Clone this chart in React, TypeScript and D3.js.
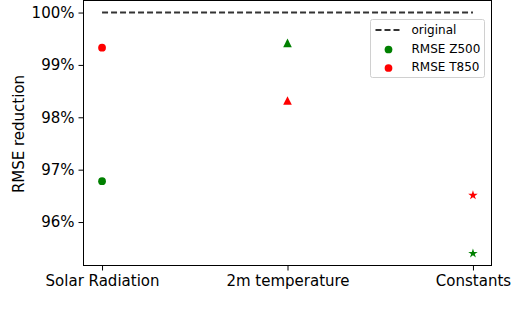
import { useEffect, useRef } from "react";
import * as d3 from "d3";

// categories on the x axis
const categories = ["Solar Radiation", "2m temperature", "Constants"];
// RMSE reduction (%) per category
const z500 = [96.78, 99.42, 95.4];
const t850 = [99.33, 98.32, 96.51];
const original = [100, 100, 100];
const yTicks = [96, 97, 98, 99, 100];
const shapes = ["circle", "triangle", "star"];
const legendItems = ["original", "RMSE Z500", "RMSE T850"];

const W = 520;
const H = 324;
const margin = { left: 83.5, right: 491.5, top: 0.5, bottom: 265.5 };
const font = "DejaVu Sans, sans-serif";

function markerPath(shape: string) {
  if (shape === "circle") return d3.symbol(d3.symbolCircle, 47)();
  if (shape === "star") return d3.symbol(d3.symbolStar, 28)();
  // matplotlib '^' : width == height
  const h = 4.3;
  return `M0,${-h}L${h},${h}L${-h},${h}Z`;
}

export default function App() {
  const svgRef = useRef<SVGSVGElement>(null);

  useEffect(() => {
    const svg = d3.select(svgRef.current);
    svg.selectAll("*").remove();

    const x = d3.scaleLinear().domain([-0.1, 2.1]).range([margin.left, margin.right]);
    const all = [...z500, ...t850, ...original];
    const lo = d3.min(all)!, hi = d3.max(all)!;
    const pad = (hi - lo) * 0.05;
    const y = d3.scaleLinear().domain([lo - pad, hi + pad]).range([margin.bottom, margin.top]);

    // y axis
    const yAxis = svg.append("g").attr("transform", `translate(${margin.left},0)`)
      .call(d3.axisLeft(y).tickValues(yTicks).tickSize(5).tickPadding(4).tickFormat(d => `${d}%`));
    yAxis.select(".domain").remove();
    yAxis.selectAll("text").attr("font-size", 15).attr("font-family", font).attr("fill", "#000");
    yAxis.selectAll("line").attr("stroke", "#000");

    // x axis
    const xAxis = svg.append("g").attr("transform", `translate(0,${margin.bottom})`)
      .call(d3.axisBottom(x).tickValues([0, 1, 2]).tickSize(5).tickPadding(5)
        .tickFormat(d => categories[d as number]));
    xAxis.select(".domain").remove();
    xAxis.selectAll("text").attr("font-size", 15).attr("font-family", font).attr("fill", "#000");
    xAxis.selectAll("line").attr("stroke", "#000");

    // frame
    svg.append("rect")
      .attr("x", margin.left).attr("y", margin.top)
      .attr("width", margin.right - margin.left).attr("height", margin.bottom - margin.top)
      .attr("fill", "none").attr("stroke", "#000").attr("stroke-width", 1);

    // original line
    const line = d3.line<number>().x((d, i) => x(i)).y(d => y(d));
    svg.append("path").datum(original).attr("d", line)
      .attr("fill", "none").attr("stroke", "#333").attr("stroke-width", 2)
      .attr("stroke-dasharray", "6,3");

    const series = [
      { values: z500, color: "green" },
      { values: t850, color: "red" },
    ];
    series.forEach(s => {
      svg.append("g").selectAll("path").data(s.values).join("path")
        .attr("d", (d, i) => markerPath(shapes[i]))
        .attr("transform", (d, i) => `translate(${x(i)},${y(d)})`)
        .attr("fill", s.color);
    });

    // y label
    svg.append("text")
      .attr("transform", `translate(24,${(margin.top + margin.bottom) / 2 + 1}) rotate(-90)`)
      .attr("text-anchor", "middle").attr("font-size", 15).attr("font-family", font)
      .text("RMSE reduction");

    // legend
    const lg = svg.append("g").attr("transform", "translate(370.5,19.5)");
    lg.append("rect").attr("width", 114).attr("height", 58).attr("rx", 2)
      .attr("fill", "#fff").attr("fill-opacity", 0.8).attr("stroke", "#d0d0d0");
    legendItems.forEach((name, i) => {
      const cy = 10.5 + i * 18.5;
      if (i === 0) {
        lg.append("line").attr("x1", 5).attr("x2", 30).attr("y1", cy).attr("y2", cy)
          .attr("stroke", "#333").attr("stroke-width", 2).attr("stroke-dasharray", "6,3");
      } else {
        lg.append("path").attr("d", markerPath("circle"))
          .attr("transform", `translate(18,${cy + 1})`)
          .attr("fill", i === 1 ? "green" : "red");
      }
      lg.append("text").attr("x", 41).attr("y", cy).attr("dy", "0.35em")
        .attr("font-size", 12).attr("font-family", font).text(name);
    });
  }, []);

  return (
    <svg ref={svgRef} width={W} height={H}
      style={{ position: "fixed", left: 0, top: 0, background: "#fff" }} />
  );
}
